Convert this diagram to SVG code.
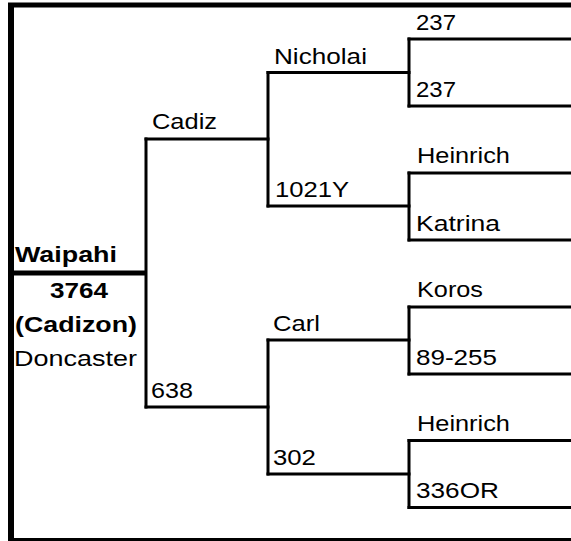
<svg xmlns="http://www.w3.org/2000/svg" width="571" height="541" viewBox="0 0 571 541">
<style>
text{font-family:"Liberation Sans",Arial,sans-serif;font-size:21.5px;fill:#000}
.b{font-weight:bold}
.ln{stroke:#000;stroke-width:3;fill:none;stroke-linecap:square}
.frame{stroke:#000;fill:none}
</style>
<rect width="571" height="541" fill="#fff"/>
<g id="frame">
<line class="frame" x1="8" y1="5" x2="571" y2="5" stroke-width="5"/>
<line class="frame" x1="11" y1="3" x2="11" y2="541" stroke-width="6"/>
<line class="frame" x1="8" y1="539.5" x2="571" y2="539.5" stroke-width="3"/>
</g>
<g id="connectors">
<line x1="14" y1="273" x2="146" y2="273" stroke="#000" stroke-width="5"/>
<path class="ln" d="M146 139 V407"/>
<path class="ln" d="M146 139 H268 M146 407 H268"/>
<path class="ln" d="M268 72.5 V206 M268 340 V474"/>
<path class="ln" d="M268 72.5 H409 M268 206 H409 M268 340 H409 M268 474 H409"/>
<path class="ln" d="M409 39 V106 M409 173 V240 M409 307 V374 M409 440.5 V507.5"/>
<path class="ln" d="M409 39 H571 M409 106 H571 M409 173 H571 M409 240 H571 M409 307 H571 M409 374 H571 M409 440.5 H571 M409 507.5 H571"/>
</g>
<g id="waipahi">
<text class="b" transform="translate(15,262) scale(1.22,1)" textLength="83.6" lengthAdjust="spacingAndGlyphs">Waipahi</text>
<text class="b" transform="translate(50,298) scale(1.22,1)" textLength="47.5" lengthAdjust="spacingAndGlyphs">3764</text>
<text class="b" transform="translate(15,332) scale(1.22,1)" textLength="100" lengthAdjust="spacingAndGlyphs">(Cadizon)</text>
<text transform="translate(14,366) scale(1.22,1)" textLength="100.8" lengthAdjust="spacingAndGlyphs">Doncaster</text>
</g>
<g id="cadiz"><text transform="translate(152,129) scale(1.22,1)" textLength="53.3" lengthAdjust="spacingAndGlyphs">Cadiz</text></g>
<g id="n638"><text transform="translate(151,398) scale(1.22,1)" textLength="34.4" lengthAdjust="spacingAndGlyphs">638</text></g>
<g id="nicholai"><text transform="translate(274,64) scale(1.22,1)" textLength="76.2" lengthAdjust="spacingAndGlyphs">Nicholai</text></g>
<g id="n1021Y"><text transform="translate(275,197) scale(1.22,1)" textLength="60.7" lengthAdjust="spacingAndGlyphs">1021Y</text></g>
<g id="carl"><text transform="translate(273,331) scale(1.22,1)" textLength="38.5" lengthAdjust="spacingAndGlyphs">Carl</text></g>
<g id="n302"><text transform="translate(273,465) scale(1.22,1)" textLength="35.2" lengthAdjust="spacingAndGlyphs">302</text></g>
<g id="n237a"><text transform="translate(416,30) scale(1.22,1)" textLength="32.8" lengthAdjust="spacingAndGlyphs">237</text></g>
<g id="n237b"><text transform="translate(416,97) scale(1.22,1)" textLength="32.8" lengthAdjust="spacingAndGlyphs">237</text></g>
<g id="heinrich1"><text transform="translate(417,163) scale(1.22,1)" textLength="76.2" lengthAdjust="spacingAndGlyphs">Heinrich</text></g>
<g id="katrina"><text transform="translate(416,231) scale(1.22,1)" textLength="68.9" lengthAdjust="spacingAndGlyphs">Katrina</text></g>
<g id="koros"><text transform="translate(417,297) scale(1.22,1)" textLength="54.1" lengthAdjust="spacingAndGlyphs">Koros</text></g>
<g id="n89-255"><text transform="translate(416,365) scale(1.22,1)" textLength="66.4" lengthAdjust="spacingAndGlyphs">89-255</text></g>
<g id="heinrich2"><text transform="translate(417,431) scale(1.22,1)" textLength="76.2" lengthAdjust="spacingAndGlyphs">Heinrich</text></g>
<g id="n336OR"><text transform="translate(416,498) scale(1.22,1)" textLength="68" lengthAdjust="spacingAndGlyphs">336OR</text></g>
</svg>
